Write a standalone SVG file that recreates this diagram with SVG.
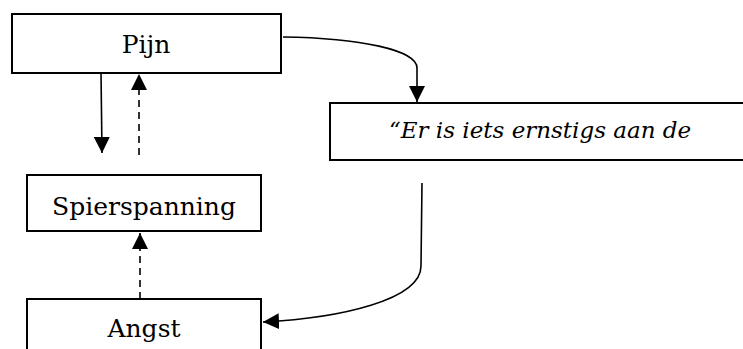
<svg xmlns="http://www.w3.org/2000/svg" width="743" height="349" viewBox="0 0 743 349">
<style>
.box{fill:#fff;stroke:#000;stroke-width:2}
.lbl{font-size:25px;fill:#000;text-anchor:middle}
.it{font-style:italic;font-size:23px;text-anchor:start}
.c{fill:none;stroke:#000;stroke-width:1.6}
.d{stroke-dasharray:7,5}
</style>
<defs>
<marker id="ah" viewBox="0 0 16 16" refX="16" refY="8" markerWidth="16" markerHeight="16" markerUnits="userSpaceOnUse" orient="auto">
<path d="M0,0 L16,8 L0,16 Z" fill="#000"/>
</marker>
</defs>
<g id="pijn"><rect class="box" x="12" y="14" width="269" height="59"/><text class="lbl" font-family="DejaVu Serif, serif" x="146" y="53">Pijn</text></g>
<g id="gedachte"><rect class="box" x="330" y="103" width="440" height="57"/><text class="lbl it" font-family="DejaVu Serif, serif" x="389" y="138">“Er is iets ernstigs aan de</text></g>
<g id="spierspanning"><rect class="box" x="27" y="175" width="234" height="56"/><text class="lbl" font-family="DejaVu Serif, serif" x="144" y="215">Spierspanning</text></g>
<g id="angst"><rect class="box" x="27" y="299" width="234" height="70"/><text class="lbl" font-family="DejaVu Serif, serif" x="144" y="337">Angst</text></g>
<g id="connectors">
<path class="c" d="M101,73 L102,153" marker-end="url(#ah)"/>
<path class="c d" d="M139,155 L139,74" marker-end="url(#ah)"/>
<path class="c d" d="M140,299 L140,233" marker-end="url(#ah)"/>
<path class="c" d="M283,37 C360,38 417,50 417,68 L417,102" marker-end="url(#ah)"/>
<path class="c" d="M422,183 L421,266 C421,300 340,318 263,322" marker-end="url(#ah)"/>
</g>
</svg>
